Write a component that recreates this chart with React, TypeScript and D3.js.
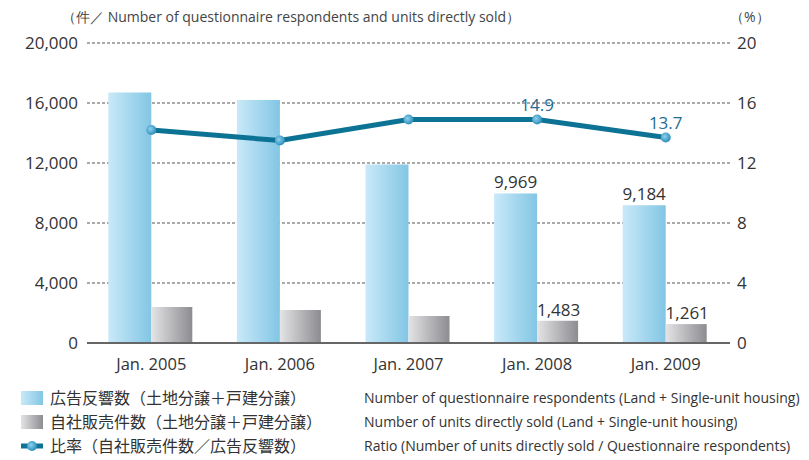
import React, { useEffect, useRef } from "react";
import * as d3 from "d3";

const years = ["Jan. 2005", "Jan. 2006", "Jan. 2007", "Jan. 2008", "Jan. 2009"];
const respondents = [16700, 16200, 11900, 9969, 9184];
const soldUnits = [2400, 2200, 1800, 1483, 1261];
const ratio = [14.2, 13.5, 14.9, 14.9, 13.7];
const leftTicks = [0, 4000, 8000, 12000, 16000, 20000];
const rightTicks = [0, 4, 8, 12, 16, 20];
const legendJa = [
  "広告反響数（土地分譲＋戸建分譲）",
  "自社販売件数（土地分譲＋戸建分譲）",
  "比率（自社販売件数／広告反響数）",
];
const legendEn = [
  "Number of questionnaire respondents (Land + Single-unit housing)",
  "Number of units directly sold (Land + Single-unit housing)",
  "Ratio (Number of units directly sold / Questionnaire respondents)",
];

const FONT = "'Open Sans', 'Noto Sans', sans-serif";
const JFONT = "'Noto Sans CJK JP', 'Noto Sans', sans-serif";

export default function App() {
  const ref = useRef<SVGSVGElement>(null);

  useEffect(() => {
    const svg = d3.select(ref.current);
    svg.selectAll("*").remove();

    const left = 87, right = 730, top = 43, bottom = 343;

    const x = d3.scaleBand().domain(years).range([left, right]);
    const y = d3.scaleLinear().domain([0, 20000]).range([bottom, top]);
    const y2 = d3.scaleLinear().domain([0, 20]).range([bottom, top]);
    const barW = 43;

    const defs = svg.append("defs");
    const gBlue = defs.append("linearGradient").attr("id", "gBlue");
    gBlue.append("stop").attr("offset", "0%").attr("stop-color", "#c9e9f9");
    gBlue.append("stop").attr("offset", "100%").attr("stop-color", "#82c6e4");
    const gGray = defs.append("linearGradient").attr("id", "gGray");
    gGray.append("stop").attr("offset", "0%").attr("stop-color", "#e4e4e6");
    gGray.append("stop").attr("offset", "100%").attr("stop-color", "#8c8c91");
    const gDot = defs.append("radialGradient").attr("id", "gDot")
      .attr("cx", "40%").attr("cy", "40%").attr("r", "60%");
    gDot.append("stop").attr("offset", "0%").attr("stop-color", "#8fd0ec");
    gDot.append("stop").attr("offset", "100%").attr("stop-color", "#2b8fbd");

    // titles
    svg.append("text").attr("x", 62).attr("y", 22)
      .attr("font-family", FONT).attr("font-size", 14).attr("fill", "#444")
      .text("（件／ Number of questionnaire respondents and units directly sold）");
    svg.append("text").attr("x", 730).attr("y", 22)
      .attr("font-family", FONT).attr("font-size", 14).attr("fill", "#444")
      .text("（%）");

    // grid
    svg.selectAll("line.grid")
      .data(leftTicks.filter(d => d > 0))
      .join("line")
      .attr("x1", left).attr("x2", right)
      .attr("y1", d => y(d)).attr("y2", d => y(d))
      .attr("stroke", "#555").attr("stroke-width", 1)
      .attr("stroke-dasharray", "3,2");

    // left ticks
    svg.selectAll("text.lt")
      .data(leftTicks)
      .join("text")
      .attr("x", 78).attr("y", d => y(d) + 6)
      .attr("text-anchor", "end")
      .attr("font-family", FONT).attr("font-size", 17).attr("fill", "#333")
      .text(d => d3.format(",")(d));

    // right ticks
    svg.selectAll("text.rt")
      .data(rightTicks)
      .join("text")
      .attr("x", 737).attr("y", d => y2(d) + 6)
      .attr("font-family", FONT).attr("font-size", 17).attr("fill", "#333")
      .text(d => d);

    // bars
    svg.selectAll("rect.blue")
      .data(respondents)
      .join("rect")
      .attr("x", (d, i) => x(years[i])! + x.bandwidth() / 2 - barW)
      .attr("y", d => y(d))
      .attr("width", barW)
      .attr("height", d => bottom - y(d))
      .attr("fill", "url(#gBlue)");

    svg.selectAll("rect.gray")
      .data(soldUnits)
      .join("rect")
      .attr("x", (d, i) => x(years[i])! + x.bandwidth() / 2)
      .attr("y", d => y(d))
      .attr("width", barW - 2)
      .attr("height", d => bottom - y(d))
      .attr("fill", "url(#gGray)");

    // baseline
    svg.append("line")
      .attr("x1", left).attr("x2", right)
      .attr("y1", bottom).attr("y2", bottom)
      .attr("stroke", "#666").attr("stroke-width", 2);

    // category labels
    svg.selectAll("text.cat")
      .data(years)
      .join("text")
      .attr("x", d => x(d)! + x.bandwidth() / 2)
      .attr("y", 370)
      .attr("text-anchor", "middle")
      .attr("font-family", FONT).attr("font-size", 16.5).attr("fill", "#333")
      .text(d => d);

    // bar value labels (2008, 2009)
    [3, 4].forEach(i => {
      const cx = x(years[i])! + x.bandwidth() / 2;
      svg.append("text")
        .attr("x", cx - barW / 2).attr("y", y(respondents[i]) - 5)
        .attr("text-anchor", "middle")
        .attr("font-family", FONT).attr("font-size", 17).attr("fill", "#333")
        .text(d3.format(",")(respondents[i]));
      svg.append("text")
        .attr("x", cx + barW / 2).attr("y", y(soldUnits[i]) - 5)
        .attr("text-anchor", "middle")
        .attr("font-family", FONT).attr("font-size", 17).attr("fill", "#333")
        .text(d3.format(",")(soldUnits[i]));
    });

    // ratio line
    const line = d3.line<number>()
      .x((d, i) => x(years[i])! + x.bandwidth() / 2)
      .y(d => y2(d));
    svg.append("path")
      .datum(ratio)
      .attr("d", line)
      .attr("fill", "none")
      .attr("stroke", "#0d7394")
      .attr("stroke-width", 5);

    svg.selectAll("circle.dot")
      .data(ratio)
      .join("circle")
      .attr("cx", (d, i) => x(years[i])! + x.bandwidth() / 2)
      .attr("cy", d => y2(d))
      .attr("r", 5)
      .attr("fill", "url(#gDot)");

    [3, 4].forEach(i => {
      svg.append("text")
        .attr("x", x(years[i])! + x.bandwidth() / 2)
        .attr("y", y2(ratio[i]) - 9)
        .attr("text-anchor", "middle")
        .attr("font-family", FONT).attr("font-size", 17).attr("fill", "#236c94")
        .text(ratio[i].toFixed(1));
    });

    // legend
    const rowY = [398, 422, 446];
    const lg = svg.append("g");
    lg.append("rect").attr("x", 21).attr("y", rowY[0] - 7).attr("width", 22).attr("height", 14)
      .attr("fill", "url(#gBlue)");
    lg.append("rect").attr("x", 21).attr("y", rowY[1] - 7).attr("width", 22).attr("height", 14)
      .attr("fill", "url(#gGray)");
    lg.append("line").attr("x1", 21).attr("x2", 43).attr("y1", rowY[2]).attr("y2", rowY[2])
      .attr("stroke", "#0d7394").attr("stroke-width", 5);
    lg.append("circle").attr("cx", 32).attr("cy", rowY[2]).attr("r", 5).attr("fill", "url(#gDot)");

    lg.selectAll("text.ja")
      .data(legendJa)
      .join("text")
      .attr("x", 50).attr("y", (d, i) => rowY[i] + 6)
      .attr("font-family", JFONT).attr("font-size", 16).attr("fill", "#333")
      .text(d => d);
    lg.selectAll("text.en")
      .data(legendEn)
      .join("text")
      .attr("x", 364).attr("y", (d, i) => rowY[i] + 5)
      .attr("font-family", FONT).attr("font-size", 14).attr("fill", "#333")
      .text(d => d);
  }, []);

  return (
    <svg
      ref={ref}
      width={809}
      height={460}
      style={{ position: "absolute", left: 0, top: 0, background: "#fff" }}
    />
  );
}
